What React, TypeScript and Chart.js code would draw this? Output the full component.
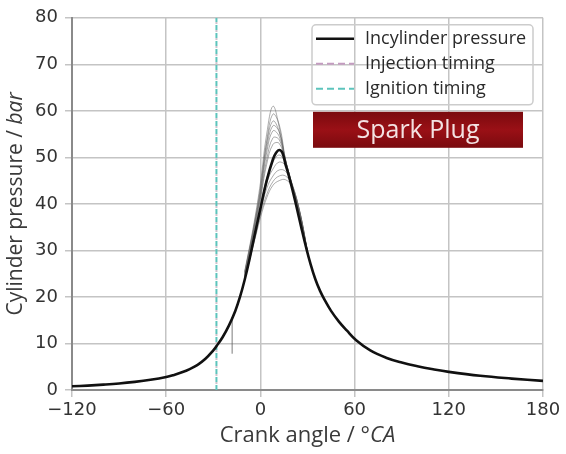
import React, { useEffect, useRef } from "react";
import { Chart, registerables } from "chart.js";
Chart.register(...registerables);

// ---- data ----
const xTicks = [-120, -60, 0, 60, 120, 180];
const yTicks = [0, 10, 20, 30, 40, 50, 60, 70, 80];

const meanAngle = [-120, -110, -100, -90, -80, -70, -60, -55, -50, -45, -40, -35, -30, -28, -24, -20, -16, -13, -10, -7, -4, 0, 4, 8, 10, 12, 14, 16, 18, 20, 23, 26, 29, 32, 35, 38, 41, 45, 50, 55, 61, 70, 80, 90, 100, 110, 120, 140, 160, 180];
const meanPressure = [0.8, 0.95, 1.15, 1.4, 1.75, 2.2, 2.8, 3.25, 3.8, 4.5, 5.4, 6.7, 8.5, 9.4, 11.4, 13.9, 17.0, 20.0, 23.7, 28.0, 32.8, 39.0, 45.0, 49.6, 51.0, 51.6, 51.0, 48.5, 46.2, 43.6, 39.4, 35.0, 30.8, 27.0, 23.8, 21.3, 19.3, 17.0, 14.7, 12.8, 10.7, 8.5, 6.95, 5.9, 5.1, 4.45, 3.9, 3.05, 2.45, 1.95];

const cycleAngle = [-10, -4, 0, 4, 8, 12, 16, 20, 25, 30];
const cycle01 = [25.5, 36.0, 44.5, 55.0, 61.0, 56.5, 49.0, 43.5, 37.8, 29.5];
const cycle02 = [25.3, 35.5, 43.5, 53.5, 59.3, 57.0, 49.5, 43.7, 37.8, 29.5];
const cycle03 = [25.2, 35.2, 43.0, 53.0, 57.8, 55.5, 49.0, 43.7, 37.8, 29.5];
const cycle04 = [25.0, 35.0, 42.5, 52.0, 56.8, 55.5, 49.5, 44.0, 37.9, 29.5];
const cycle05 = [24.8, 34.7, 42.0, 51.0, 55.7, 54.5, 49.5, 44.0, 37.9, 29.5];
const cycle06 = [24.6, 34.3, 41.5, 49.5, 54.2, 53.8, 49.3, 44.0, 37.9, 29.5];
const cycle07 = [24.5, 33.8, 41.0, 48.5, 52.8, 53.0, 49.2, 44.2, 38.0, 29.5];
const cycle08 = [24.2, 33.0, 39.5, 45.5, 49.0, 50.5, 48.8, 44.3, 38.2, 29.6];
const cycle09 = [24.1, 32.7, 38.8, 44.5, 47.5, 49.0, 48.2, 44.5, 38.3, 29.7];
const cycle10 = [24.0, 32.3, 38.2, 43.3, 46.0, 47.3, 47.0, 44.5, 38.4, 29.8];
const cycle11 = [23.9, 32.0, 37.6, 42.0, 44.8, 46.0, 46.0, 44.2, 38.5, 29.8];
const cycle12 = [23.8, 31.7, 37.0, 41.3, 44.0, 45.0, 45.2, 43.8, 38.4, 29.8];
const cycles = [cycle01, cycle02, cycle03, cycle04, cycle05, cycle06, cycle07, cycle08, cycle09, cycle10, cycle11, cycle12];

const injectionAngle = -28;
const ignitionAngle = -28;
const timingRange = [0, 80];
const markerAngle = -18;
const markerRange = [7.8, 15.6];

const legendLabels = ["Incylinder pressure", "Injection timing", "Ignition timing"];
const legendColors = ["#111111", "#c39cc0", "#5cc4bc"];
const annotationText = "Spark Plug";

// ---- helpers ----
const pts = (xs: number[], ys: number[]) => xs.map((x, i) => ({ x, y: ys[i] }));
const minus = (v: number) => (v < 0 ? "\u2212" + Math.abs(v) : String(v));

function drawMixed(ctx: CanvasRenderingContext2D, parts: [string, boolean][], cx: number, cy: number, size: number) {
  const fonts = parts.map(([, it]) => `${it ? "italic " : ""}${size}px "Open Sans"`);
  let total = 0;
  const widths = parts.map(([t], i) => {
    ctx.font = fonts[i];
    const w = ctx.measureText(t).width;
    total += w;
    return w;
  });
  let x = cx - total / 2;
  ctx.textBaseline = "middle";
  ctx.textAlign = "left";
  parts.forEach(([t], i) => {
    ctx.font = fonts[i];
    ctx.fillText(t, x, cy);
    x += widths[i];
  });
}

const overlayPlugin = {
  id: "overlay",
  afterDraw(chart: any) {
    const ctx: CanvasRenderingContext2D = chart.ctx;
    const a = chart.chartArea;
    ctx.save();
    ctx.fillStyle = "#3a3a3a";
    // axis titles
    drawMixed(ctx, [["Crank angle / \u00b0", false], ["CA", true]], (a.left + a.right) / 2, 436, 22);
    ctx.save();
    ctx.translate(16, (a.top + a.bottom) / 2);
    ctx.rotate(-Math.PI / 2);
    drawMixed(ctx, [["Cylinder pressure / ", false], ["bar", true]], 0, 0, 21);
    ctx.restore();

    // legend
    const lx = a.right - 231, ly = a.top + 7, lw = 221, lh = 80;
    ctx.strokeStyle = "#cccccc";
    ctx.lineWidth = 1.5;
    ctx.beginPath();
    (ctx as any).roundRect(lx, ly, lw, lh, 4);
    ctx.stroke();
    legendLabels.forEach((label, i) => {
      const y = ly + 14 + i * 25;
      ctx.save();
      ctx.strokeStyle = legendColors[i];
      ctx.lineWidth = i === 0 ? 2.5 : 2;
      ctx.setLineDash(i === 0 ? [] : [7, 4]);
      ctx.beginPath();
      ctx.moveTo(lx + 4, y);
      ctx.lineTo(lx + 42, y);
      ctx.stroke();
      ctx.restore();
      ctx.fillStyle = "#2a2a2a";
      ctx.font = '18px "Open Sans"';
      ctx.textBaseline = "middle";
      ctx.textAlign = "left";
      ctx.fillText(label, lx + 53, y);
    });

    // red annotation box
    const bx = lx + 1, by = ly + 87, bw = 210, bh = 36;
    const g = ctx.createLinearGradient(bx, by, bx, by + bh);
    g.addColorStop(0, "#7a0a0e");
    g.addColorStop(0.5, "#9a1016");
    g.addColorStop(1, "#7a0a0e");
    ctx.fillStyle = g;
    ctx.fillRect(bx, by, bw, bh);
    ctx.fillStyle = "#f3e2e2";
    ctx.font = '25px "Open Sans"';
    ctx.textAlign = "center";
    ctx.textBaseline = "middle";
    ctx.fillText(annotationText, bx + bw / 2, by + bh / 2 + 1);
    ctx.restore();
  },
};

export default function App() {
  const ref = useRef<HTMLCanvasElement>(null);
  useEffect(() => {
    if (!ref.current) return;
    const cycleSets = cycles.map((c) => ({
      data: pts(cycleAngle, c),
      borderColor: "rgba(100,100,100,0.6)",
      borderWidth: 0.9,
      pointRadius: 0,
      tension: 0.4,
      order: 5,
    }));
    const chart = new Chart(ref.current, {
      type: "line",
      data: {
        datasets: [
          {
            data: pts(meanAngle, meanPressure),
            borderColor: "#111",
            borderWidth: 2.6,
            pointRadius: 0,
            tension: 0.4,
            order: 1,
          },
          {
            data: pts([injectionAngle, injectionAngle], timingRange),
            borderColor: "#cdc4cc",
            borderWidth: 2,
            borderDash: [2, 6],
            borderDashOffset: -6,
            pointRadius: 0,
            order: 3,
          },
          {
            data: pts([ignitionAngle, ignitionAngle], timingRange),
            borderColor: "#5cc4bc",
            borderWidth: 2,
            borderDash: [5, 3],
            pointRadius: 0,
            order: 2,
          },
          {
            data: pts([markerAngle, markerAngle], markerRange),
            borderColor: "rgba(90,90,90,0.8)",
            borderWidth: 1,
            pointRadius: 0,
            order: 4,
          },
          ...cycleSets,
        ] as any,
      },
      options: {
        animation: false,
        responsive: false,
        maintainAspectRatio: false,
        parsing: false as any,
        layout: { padding: { left: 0, right: 23, top: 16, bottom: 0 } },
        plugins: { legend: { display: false }, tooltip: { enabled: false } },
        scales: {
          x: {
            type: "linear",
            min: -120,
            max: 180,
            afterBuildTicks: (s: any) => {
              s.ticks = xTicks.map((v) => ({ value: v }));
            },
            afterFit: (s: any) => {
              s.height = 64;
            },
            grid: { color: "#c4c4c4", lineWidth: 1.5, tickLength: 7 },
            border: { color: "#8a8a8a", width: 2 },
            ticks: {
              color: "#333",
              padding: 3,
              maxRotation: 0,
              font: { family: "DejaVu Sans", size: 18 },
              callback: (v: any) => minus(Number(v)),
            },
          },
          y: {
            type: "linear",
            min: 0,
            max: 80,
            afterBuildTicks: (s: any) => {
              s.ticks = yTicks.map((v) => ({ value: v }));
            },
            afterFit: (s: any) => {
              s.width = 72;
            },
            grid: { color: "#c4c4c4", lineWidth: 1.5, tickLength: 7 },
            border: { color: "#8a8a8a", width: 2 },
            ticks: {
              color: "#333",
              padding: 7,
              font: { family: "DejaVu Sans", size: 18 },
              callback: (v: any) => minus(Number(v)),
            },
          },
        },
      },
      plugins: [overlayPlugin],
    });
    return () => chart.destroy();
  }, []);
  return (
    <div style={{ position: "fixed", left: 0, top: 0, width: 566, height: 454, background: "#fff" }}>
      <canvas ref={ref} width={566} height={454} style={{ width: 566, height: 454 }} />
    </div>
  );
}
